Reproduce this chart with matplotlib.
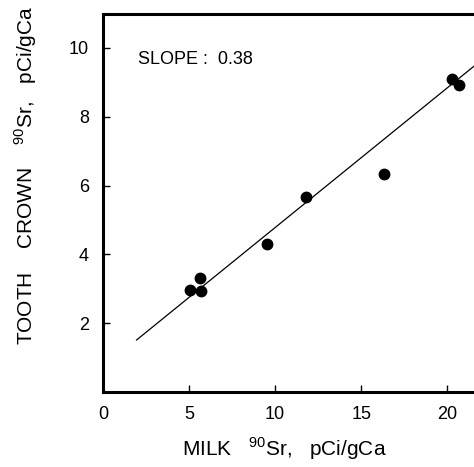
import matplotlib.pyplot as plt
import numpy as np

plt.rcParams['font.family'] = ['Liberation Sans', 'DejaVu Sans']
plt.rcParams['mathtext.fontset'] = 'custom'
plt.rcParams['mathtext.rm'] = 'Liberation Sans'

# data
milk_sr = [5.05, 5.65, 5.7, 9.5, 11.8, 16.3, 20.3, 20.65]
tooth_sr = [2.95, 3.3, 2.93, 4.3, 5.68, 6.33, 9.09, 8.91]

# regression line
fit_slope = 0.406
fit_intercept = 0.72
fit_x = [1.95, 23.0]

x_ticks = [0, 5, 10, 15, 20]
y_ticks = [2, 4, 6, 8, 10]

fig = plt.figure(figsize=(4.74, 4.67), dpi=100)
ax = fig.add_axes([103 / 474, 75 / 467, 1 - 103 / 474, 378.5 / 467])

ax.plot(milk_sr, tooth_sr, 'o', color='black', markersize=7.5)
fx = np.array(fit_x)
ax.plot(fx, fit_intercept + fit_slope * fx, color='black', linewidth=0.9)

ax.set_xlim(0, 21.55)
ax.set_ylim(0, 11.0)
ax.set_xticks(x_ticks)
ax.set_yticks(y_ticks)
ax.tick_params(direction='in', length=5, width=1, labelsize=13, pad=10)

for s in ['left', 'bottom', 'top']:
    ax.spines[s].set_linewidth(2.2)
ax.spines['right'].set_visible(False)

ax.text(2.05, 9.67, 'SLOPE :  0.38', fontsize=13, ha='left', va='center')

ax.set_xlabel(r'MILK   $^{\mathregular{90}}$Sr,   pCi/gCa', fontsize=15)
ax.xaxis.set_label_coords(0.49, -0.115)
ax.set_ylabel(r'TOOTH    CROWN    $^{\mathregular{90}}$Sr,   pCi/gCa', fontsize=15)
ax.yaxis.set_label_coords(-0.172, 0.573)

plt.savefig('out.png', dpi=100)
